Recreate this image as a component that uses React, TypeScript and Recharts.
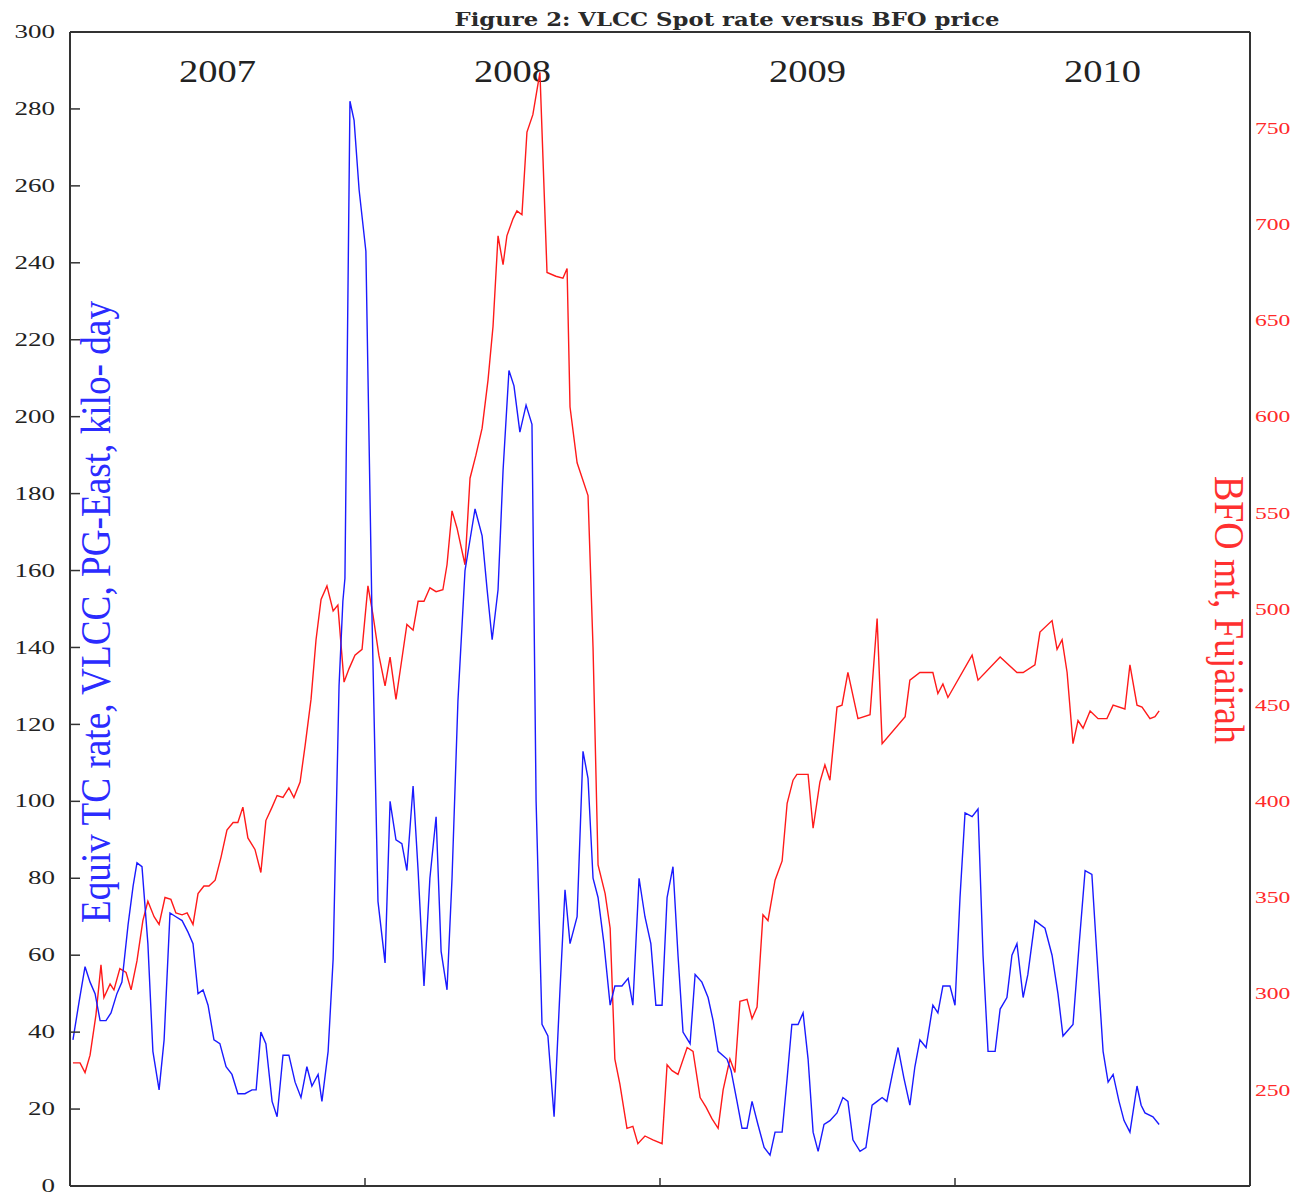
import { LineChart, Line, XAxis, YAxis, ReferenceLine } from "recharts";

// VLCC equivalent TC rate, PG-East (kilo $/day), weekly-ish readings
const blueYear = [
  2007.010, 2007.031, 2007.051, 2007.068, 2007.085, 2007.102, 2007.122, 2007.139, 2007.159, 2007.176,
  2007.197, 2007.214, 2007.227, 2007.244, 2007.264, 2007.281, 2007.302, 2007.319, 2007.339, 2007.359,
  2007.380, 2007.400, 2007.417, 2007.434, 2007.451, 2007.468, 2007.488, 2007.508, 2007.529, 2007.549,
  2007.569, 2007.593, 2007.617, 2007.631, 2007.647, 2007.664, 2007.685, 2007.702, 2007.722, 2007.742,
  2007.763, 2007.783, 2007.803, 2007.820, 2007.841, 2007.854, 2007.875, 2007.892, 2007.912, 2007.925,
  2007.932, 2007.949, 2007.963, 2007.980, 2008.003, 2008.024, 2008.044, 2008.068, 2008.085, 2008.105,
  2008.125, 2008.142, 2008.163, 2008.180, 2008.200, 2008.220, 2008.241, 2008.258, 2008.278, 2008.295,
  2008.315, 2008.339, 2008.356, 2008.373, 2008.397, 2008.414, 2008.431, 2008.451, 2008.468, 2008.488,
  2008.505, 2008.525, 2008.546, 2008.566, 2008.580, 2008.600, 2008.620, 2008.641, 2008.661, 2008.678,
  2008.695, 2008.719, 2008.739, 2008.756, 2008.773, 2008.790, 2008.810, 2008.831, 2008.847, 2008.871,
  2008.892, 2008.908, 2008.929, 2008.949, 2008.969, 2008.986, 2009.007, 2009.024, 2009.044, 2009.061,
  2009.078, 2009.102, 2009.119, 2009.142, 2009.163, 2009.180, 2009.197, 2009.227, 2009.241, 2009.261,
  2009.278, 2009.295, 2009.312, 2009.332, 2009.353, 2009.373, 2009.390, 2009.414, 2009.431, 2009.447,
  2009.468, 2009.485, 2009.502, 2009.519, 2009.536, 2009.556, 2009.576, 2009.600, 2009.620, 2009.637,
  2009.654, 2009.678, 2009.698, 2009.719, 2009.736, 2009.753, 2009.769, 2009.790, 2009.807, 2009.827,
  2009.847, 2009.864, 2009.881, 2009.902, 2009.925, 2009.942, 2009.959, 2009.983, 2010.000, 2010.017,
  2010.034, 2010.058, 2010.078, 2010.095, 2010.112, 2010.136, 2010.153, 2010.176, 2010.193, 2010.210,
  2010.231, 2010.247, 2010.271, 2010.305, 2010.329, 2010.349, 2010.366, 2010.400, 2010.420, 2010.441,
  2010.464, 2010.481, 2010.502, 2010.519, 2010.536, 2010.556, 2010.573, 2010.593, 2010.617, 2010.631,
  2010.644, 2010.671, 2010.692,
];
const blueRate = [
  38, 48, 57, 53, 50, 43, 43, 45, 50, 53,
  68, 78, 84, 83, 63, 35, 25, 38, 71, 70,
  69, 66, 63, 50, 51, 47, 38, 37, 31, 29,
  24, 24, 25, 25, 40, 37, 22, 18, 34, 34,
  27, 23, 31, 26, 29, 22, 35, 59, 130, 152,
  158, 282, 277, 259, 243, 147, 74, 58, 100, 90,
  89, 82, 104, 82, 52, 80, 96, 61, 51, 80,
  126, 160, 168, 176, 169, 155, 142, 155, 186, 212,
  208, 196, 203, 198, 100, 42, 39, 18, 51, 77,
  63, 70, 113, 106, 80, 75, 63, 47, 52, 52,
  54, 47, 80, 70, 63, 47, 47, 75, 83, 60,
  40, 37, 55, 53, 49, 43, 35, 33, 30, 22,
  15, 15, 22, 16, 10, 8, 14, 14, 28, 42,
  42, 45, 33, 14, 9, 16, 17, 19, 23, 22,
  12, 9, 10, 21, 22, 23, 22, 30, 36, 28,
  21, 31, 38, 36, 47, 45, 52, 52, 47, 75,
  97, 96, 98, 60, 35, 35, 46, 49, 60, 63,
  49, 55, 69, 67, 60, 50, 39, 42, 62, 82,
  81, 60, 35, 27, 29, 22, 17, 14, 26, 21,
  19, 18, 16,
];

// BFO price, Fujairah ($/mt)
const redYear = [
  2007.010, 2007.034, 2007.051, 2007.068, 2007.088, 2007.105, 2007.115, 2007.136, 2007.149, 2007.169,
  2007.190, 2007.207, 2007.227, 2007.247, 2007.264, 2007.285, 2007.302, 2007.322, 2007.342, 2007.359,
  2007.380, 2007.397, 2007.417, 2007.434, 2007.454, 2007.471, 2007.492, 2007.512, 2007.532, 2007.553,
  2007.569, 2007.586, 2007.603, 2007.627, 2007.647, 2007.664, 2007.685, 2007.702, 2007.722, 2007.742,
  2007.759, 2007.780, 2007.797, 2007.817, 2007.834, 2007.851, 2007.871, 2007.892, 2007.908, 2007.929,
  2007.946, 2007.966, 2007.990, 2008.010, 2008.027, 2008.047, 2008.068, 2008.085, 2008.105, 2008.125,
  2008.142, 2008.163, 2008.180, 2008.200, 2008.220, 2008.241, 2008.264, 2008.278, 2008.295, 2008.312,
  2008.339, 2008.356, 2008.376, 2008.397, 2008.417, 2008.434, 2008.451, 2008.468, 2008.481, 2008.502,
  2008.515, 2008.532, 2008.549, 2008.569, 2008.593, 2008.617, 2008.647, 2008.671, 2008.685, 2008.695,
  2008.719, 2008.756, 2008.773, 2008.790, 2008.814, 2008.831, 2008.847, 2008.864, 2008.888, 2008.908,
  2008.925, 2008.949, 2008.976, 2009.007, 2009.024, 2009.041, 2009.061, 2009.092, 2009.112, 2009.136,
  2009.156, 2009.176, 2009.197, 2009.214, 2009.237, 2009.254, 2009.271, 2009.295, 2009.312, 2009.329,
  2009.349, 2009.366, 2009.390, 2009.414, 2009.431, 2009.451, 2009.464, 2009.502, 2009.519, 2009.542,
  2009.559, 2009.576, 2009.600, 2009.617, 2009.637, 2009.671, 2009.712, 2009.736, 2009.753, 2009.831,
  2009.847, 2009.881, 2009.925, 2009.942, 2009.959, 2009.976, 2010.058, 2010.078, 2010.153, 2010.210,
  2010.231, 2010.271, 2010.288, 2010.329, 2010.346, 2010.363, 2010.380, 2010.400, 2010.417, 2010.434,
  2010.458, 2010.485, 2010.515, 2010.536, 2010.576, 2010.593, 2010.617, 2010.634, 2010.661, 2010.678,
  2010.692,
];
const redPrice = [
  264, 264, 259, 268, 289, 315, 298, 305, 302, 313,
  311, 302, 317, 338, 348, 340, 336, 350, 349, 342,
  341, 342, 336, 352, 356, 356, 359, 371, 385, 389,
  389, 397, 381, 375, 363, 390, 397, 403, 402, 407,
  402, 410, 429, 453, 484, 505, 512, 499, 502, 462,
  469, 476, 479, 512, 497, 476, 460, 475, 453, 474,
  492, 489, 504, 504, 511, 509, 510, 523, 551, 542,
  523, 568, 580, 594, 619, 647, 694, 679, 694, 703,
  707, 705, 748, 757, 779, 675, 673, 672, 677, 605,
  576, 559, 480, 367, 352, 334, 266, 253, 230, 231,
  222, 226, 224, 222, 263, 260, 258, 272, 270, 246,
  241, 235, 230, 250, 266, 259, 296, 297, 287, 293,
  341, 338, 359, 369, 399, 411, 414, 414, 386, 410,
  419, 411, 449, 450, 467, 443, 445, 495, 430, 444,
  463, 467, 467, 456, 461, 454, 476, 463, 475, 467,
  467, 471, 488, 494, 479, 484, 467, 430, 442, 438,
  447, 443, 443, 450, 448, 471, 450, 449, 443, 444,
  447,
];

const rateTicks = [0, 20, 40, 60, 80, 100, 120, 140, 160, 180, 200, 220, 240, 260, 280, 300];
const priceTicks = [250, 300, 350, 400, 450, 500, 550, 600, 650, 700, 750];
const yearTicks = [2008, 2009, 2010];
const yearLabels = ["2007", "2008", "2009", "2010"];
const yearMids = [2007.5, 2008.5, 2009.5, 2010.5];

const blueData = blueYear.map((t, i) => ({ t, v: blueRate[i] }));
const redData = redYear.map((t, i) => ({ t, v: redPrice[i] }));

const SERIF = "'Liberation Serif', 'Times New Roman', serif";
const FRAME = "#333";

function RateTick(props: any) {
  const { x, y, payload } = props;
  const s = String(payload.value);
  return (
    <g>
      <line x1={x + 15} x2={x + 25} y1={y} y2={y} stroke={FRAME} strokeWidth={1.5} />
      <text x={x} y={y} dy="0.34em" textAnchor="end" fontFamily={SERIF} fontSize={18} fill="#222"
        textLength={s.length * 13.5} lengthAdjust="spacingAndGlyphs">{s}</text>
    </g>
  );
}

function PriceTick(props: any) {
  const { x, y, payload } = props;
  const s = String(payload.value);
  return (
    <text x={x} y={y} dy="0.34em" textAnchor="start" fontFamily={SERIF} fontSize={17} fill="#ff2a2a"
      textLength={s.length * 11.8} lengthAdjust="spacingAndGlyphs">{s}</text>
  );
}

function YearTick(props: any) {
  const { x, y } = props;
  return <line x1={x} x2={x} y1={y} y2={y - 8} stroke={FRAME} strokeWidth={1.5} />;
}

function YearLabel(props: any) {
  const vb = props.viewBox || {};
  return (
    <text x={vb.x} y={vb.y + 50} textAnchor="middle" fontFamily={SERIF} fontSize={32} fill="#222"
      textLength={77} lengthAdjust="spacingAndGlyphs">{props.text}</text>
  );
}

function RateLabel(props: any) {
  const vb = props.viewBox || {};
  const cy = vb.y + vb.height / 2 + 3;
  return (
    <text transform={`translate(${vb.x + vb.width + 40}, ${cy}) rotate(-90)`} textAnchor="middle"
      fontFamily={SERIF} fontSize={42} fill="#2b2bff" textLength={622} lengthAdjust="spacingAndGlyphs">
      Equiv TC rate, VLCC, PG-East, kilo- day
    </text>
  );
}

function PriceLabel(props: any) {
  const vb = props.viewBox || {};
  const cy = vb.y + vb.height / 2 + 1;
  return (
    <text transform={`translate(${vb.x - 35}, ${cy}) rotate(90)`} textAnchor="middle"
      fontFamily={SERIF} fontSize={42} fill="#ff3030" textLength={268} lengthAdjust="spacingAndGlyphs">
      BFO mt, Fujairah
    </text>
  );
}

export default function App() {
  return (
    <div style={{ position: "absolute", left: 0, top: 0, width: 1299, height: 1196, background: "#fff" }}>
      <svg width={1299} height={32} style={{ position: "absolute", left: 0, top: 0 }}>
        <text x={727} y={26} textAnchor="middle" fontFamily="'DejaVu Serif', serif" fontWeight="bold"
          fontSize={19} fill="#2a2a2a" textLength={545} lengthAdjust="spacingAndGlyphs">
          Figure 2: VLCC Spot rate versus BFO price
        </text>
      </svg>
      <LineChart width={1299} height={1196} margin={{ top: 32, right: 0, bottom: 0, left: 0 }}>
        <XAxis xAxisId="x" type="number" dataKey="t" domain={[2007, 2011]} ticks={yearTicks}
          allowDataOverflow height={10} tickSize={0} tickMargin={0} tickLine={false} tick={<YearTick />}
          axisLine={{ stroke: FRAME, strokeWidth: 2 }} />
        <YAxis yAxisId="rate" domain={[0, 300]} ticks={rateTicks} width={70} tickSize={0} tickMargin={15}
          tickLine={false} tick={<RateTick />} axisLine={{ stroke: FRAME, strokeWidth: 2 }}
          allowDataOverflow label={<RateLabel />} />
        <YAxis yAxisId="price" orientation="right" domain={[200, 800]} ticks={priceTicks} width={49}
          tickSize={0} tickMargin={5} tickLine={false} tick={<PriceTick />}
          axisLine={{ stroke: FRAME, strokeWidth: 2 }} allowDataOverflow label={<PriceLabel />} />
        <ReferenceLine xAxisId="x" yAxisId="rate" y={300} stroke={FRAME} strokeWidth={2} />
        {yearMids.map((m, i) => (
          <ReferenceLine key={m} xAxisId="x" yAxisId="rate" x={m} stroke="none"
            label={<YearLabel text={yearLabels[i]} />} />
        ))}
        <Line data={redData} xAxisId="x" yAxisId="price" dataKey="v" type="linear" stroke="#ff1a1a"
          strokeWidth={1.4} dot={false} isAnimationActive={false} />
        <Line data={blueData} xAxisId="x" yAxisId="rate" dataKey="v" type="linear" stroke="#1a1aff"
          strokeWidth={1.4} dot={false} isAnimationActive={false} />
      </LineChart>
    </div>
  );
}
